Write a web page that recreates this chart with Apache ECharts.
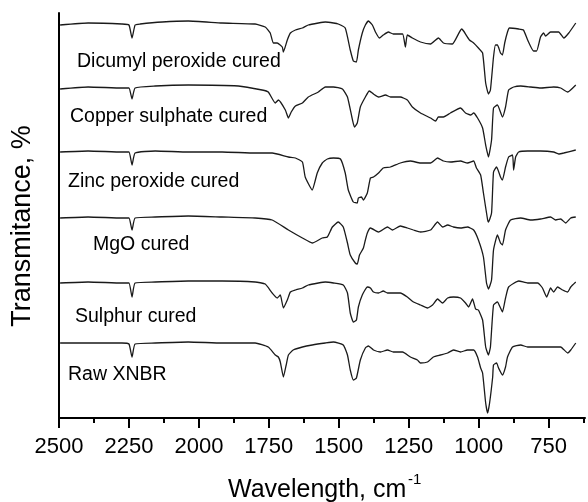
<!DOCTYPE html>
<html>
<head>
<meta charset="utf-8">
<style>html,body{margin:0;padding:0;background:#fff}#c{width:588px;height:502px}</style>
<script src="https://cdn.jsdelivr.net/npm/echarts@6/dist/echarts.min.js"></script>
</head>
<body>
<div id="c"></div>
<script>
// Wavenumber range and tick values (cm-1)
const xMin = 620, xMax = 2500;
const majorTicks = [2500, 2250, 2000, 1750, 1500, 1250, 1000, 750];
const minorTicks = [2375, 2125, 1875, 1625, 1375, 1125, 875, 625];

const seriesNames = ['Dicumyl peroxide cured', 'Copper sulphate cured', 'Zinc peroxide cured', 'MgO cured', 'Sulphur cured', 'Raw XNBR'];

// [wavenumber, offset transmittance] pairs
const dicumyl = [[2496,393],[2396,395],[2275,394],[2250,393],[2239,380],[2228,393],[2210,394],[2131,396],[2038,397],[1917,395],[1799,394],[1763,391],[1745,385],[1734,375],[1720,375],[1702,371],[1698,366],[1684,378],[1673,385],[1655,388],[1630,390],[1609,393],[1573,395],[1548,396],[1519,395],[1502,394],[1477,390],[1459,368],[1448,357],[1437,356],[1430,368],[1416,385],[1405,393],[1394,397],[1380,393],[1369,386],[1355,380],[1341,383],[1323,386],[1305,384],[1272,384],[1262,371],[1255,383],[1237,380],[1208,376],[1172,374],[1144,380],[1126,375],[1094,374],[1061,389],[1054,387],[1033,378],[1018,375],[1001,370],[986,365],[975,335],[965,324],[958,328],[947,361],[940,373],[933,373],[922,365],[915,363],[907,375],[897,386],[890,390],[857,389],[840,388],[825,378],[804,367],[793,367],[779,381],[768,385],[761,382],[743,386],[714,386],[696,380],[678,385],[653,395]];

const copper = [[2496,329],[2396,331],[2275,330],[2250,330],[2239,319],[2228,330],[2156,332],[2038,333],[1859,332],[1774,328],[1752,326],[1727,315],[1716,318],[1691,308],[1680,300],[1670,306],[1655,312],[1630,315],[1609,321],[1573,326],[1548,331],[1519,331],[1487,329],[1469,321],[1451,298],[1444,291],[1434,295],[1423,311],[1405,321],[1391,327],[1376,324],[1358,321],[1333,323],[1315,321],[1280,321],[1255,318],[1237,311],[1208,305],[1172,300],[1154,297],[1144,301],[1126,301],[1101,305],[1065,310],[1047,305],[1029,303],[1018,305],[1004,300],[986,290],[975,273],[965,261],[954,278],[947,310],[933,313],[915,301],[904,311],[893,328],[875,331],[850,332],[814,331],[779,330],[732,331],[707,330],[682,326],[653,333]];

const zinc = [[2496,266],[2396,267],[2275,266],[2250,266],[2239,253],[2228,265],[2156,267],[2038,266],[1917,266],[1799,265],[1738,265],[1680,261],[1655,260],[1630,256],[1620,241],[1595,228],[1577,245],[1559,255],[1541,259],[1519,260],[1494,259],[1477,245],[1466,228],[1448,216],[1434,215],[1430,220],[1419,221],[1412,218],[1398,225],[1387,240],[1376,241],[1358,245],[1341,250],[1315,251],[1280,255],[1244,257],[1208,255],[1172,255],[1147,260],[1126,257],[1101,256],[1065,257],[1040,255],[1018,257],[1008,250],[993,243],[983,225],[968,198],[965,196],[954,205],[947,246],[936,251],[922,241],[915,238],[904,251],[893,261],[879,263],[875,248],[868,261],[857,266],[825,267],[779,267],[732,266],[714,264],[696,265],[653,268]];

const mgo = [[2496,200],[2396,201],[2275,200],[2250,200],[2239,188],[2228,200],[2156,201],[2038,202],[1917,201],[1799,200],[1738,198],[1680,188],[1630,180],[1595,175],[1559,180],[1541,181],[1523,191],[1502,196],[1484,191],[1469,175],[1459,163],[1441,155],[1434,154],[1426,163],[1412,170],[1405,178],[1398,185],[1387,190],[1358,186],[1326,191],[1308,188],[1280,192],[1255,190],[1233,188],[1208,186],[1172,188],[1147,196],[1129,191],[1111,193],[1090,191],[1065,190],[1040,191],[1018,188],[1001,178],[983,161],[972,135],[965,129],[954,138],[947,168],[933,183],[922,175],[915,173],[904,188],[886,198],[850,200],[814,198],[779,199],[743,201],[725,198],[707,199],[689,195],[671,200],[653,201]];

const sulphur = [[2496,135],[2396,136],[2275,135],[2250,135],[2239,121],[2228,135],[2156,136],[2038,137],[1917,137],[1799,136],[1763,134],[1738,125],[1720,120],[1709,123],[1698,110],[1684,118],[1673,126],[1655,128],[1630,130],[1609,133],[1573,135],[1548,136],[1519,135],[1484,133],[1469,125],[1459,105],[1448,96],[1437,98],[1430,111],[1416,123],[1398,131],[1387,130],[1376,126],[1358,125],[1341,127],[1326,125],[1308,125],[1280,125],[1255,121],[1233,116],[1208,113],[1183,110],[1165,113],[1147,119],[1129,115],[1111,120],[1090,121],[1065,120],[1047,115],[1036,111],[1022,119],[1011,109],[1001,108],[986,98],[975,71],[965,63],[958,71],[947,113],[933,116],[922,110],[915,106],[904,120],[893,131],[857,137],[825,135],[789,135],[772,130],[757,121],[743,130],[732,126],[718,131],[700,128],[682,126],[671,131],[653,136]];

const rawXnbr = [[2496,75],[2396,75],[2275,75],[2250,74],[2239,61],[2228,74],[2156,75],[2038,76],[1917,75],[1799,75],[1752,71],[1727,63],[1716,61],[1709,56],[1698,41],[1688,53],[1680,63],[1663,68],[1630,71],[1595,73],[1548,75],[1519,76],[1484,73],[1469,63],[1459,48],[1448,38],[1437,40],[1423,58],[1405,70],[1394,72],[1376,68],[1351,66],[1326,68],[1305,66],[1272,66],[1244,61],[1219,58],[1208,55],[1183,56],[1162,61],[1137,63],[1111,65],[1090,68],[1065,66],[1040,68],[1018,68],[1004,61],[993,50],[986,45],[975,15],[968,5],[961,15],[950,41],[947,53],[936,55],[929,50],[915,43],[904,51],[897,61],[879,71],[850,73],[825,71],[779,71],[732,71],[707,71],[682,65],[671,68],[653,75]];

const allData = [dicumyl, copper, zinc, mgo, sulphur, rawXnbr];

const FONT = "'Liberation Sans', Arial, Helvetica, sans-serif";
const labelPos = [[77,62],[70,117],[68,182],[93,245],[75,317],[68,375]];

const chart = echarts.init(document.getElementById('c'), null, {renderer: 'canvas'});
const axisLineStyle = {color: '#000', width: 2};

const option = {
  animation: false,
  backgroundColor: '#fff',
  grid: {left: 59, right: 3, top: 13, bottom: 84},
  xAxis: [
    {
      type: 'value', min: xMin, max: xMax, inverse: true, position: 'bottom',
      axisLine: {show: true, onZero: false, lineStyle: axisLineStyle},
      axisTick: {show: true, customValues: majorTicks, length: 10, lineStyle: axisLineStyle},
      axisLabel: {show: true, customValues: majorTicks, fontSize: 22, color: '#000', fontFamily: FONT, margin: 18,
                  formatter: v => String(v)},
      splitLine: {show: false}
    },
    {
      type: 'value', min: xMin, max: xMax, inverse: true, position: 'bottom',
      axisLine: {show: false},
      axisTick: {show: true, customValues: minorTicks, length: 5, lineStyle: axisLineStyle},
      axisLabel: {show: false},
      splitLine: {show: false}
    }
  ],
  yAxis: {
    type: 'value', min: 0, max: 405,
    axisLine: {show: true, lineStyle: axisLineStyle},
    axisTick: {show: false}, axisLabel: {show: false}, splitLine: {show: false}
  },
  series: allData.map((d, i) => ({
    name: seriesNames[i],
    type: 'line',
    data: d,
    xAxisIndex: 0,
    showSymbol: false,
    smooth: 0.15,
    lineStyle: {color: '#1a1a1a', width: 1.3},
    z: 2
  })),
  graphic: [
    ...seriesNames.map((n, i) => ({
      type: 'text', x: labelPos[i][0], y: labelPos[i][1], z: 10,
      style: {text: n, fill: '#000', fontSize: 19.5, fontFamily: FONT, textAlign: 'left', textVerticalAlign: 'middle'}
    })),
    {
      type: 'text', x: 23, y: 226, rotation: Math.PI / 2,
      style: {text: 'Transmitance, %', fill: '#000', fontSize: 27, fontFamily: FONT, textAlign: 'center', textVerticalAlign: 'middle'}
    },
    {
      type: 'text', x: 228, y: 490,
      style: {text: 'Wavelength, cm', fill: '#000', fontSize: 25, fontFamily: FONT, textAlign: 'left', textVerticalAlign: 'middle'}
    },
    {
      type: 'text', x: 408, y: 480,
      style: {text: '-1', fill: '#000', fontSize: 15, fontFamily: FONT, textAlign: 'left', textVerticalAlign: 'middle'}
    }
  ]
};
chart.setOption(option);
</script>
</body>
</html>
